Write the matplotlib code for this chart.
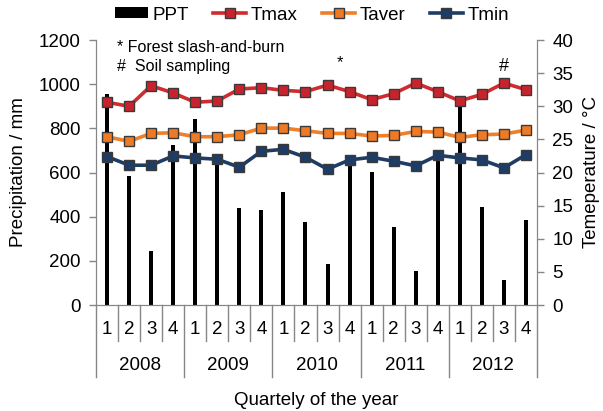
import numpy as np
import matplotlib
matplotlib.use("Agg")
import matplotlib.pyplot as plt

plt.rcParams['font.family'] = ['Liberation Sans', 'DejaVu Sans']

years = ['2008', '2009', '2010', '2011', '2012']
quarters = ['1', '2', '3', '4']

# precipitation per quarter (mm)
ppt = [955, 585, 246, 723, 844, 670, 438, 430, 512, 377,
       184, 660, 601, 355, 154, 680, 920, 444, 113, 385]
# temperatures (degC)
tmax = [30.6, 30.0, 33.1, 32.0, 30.6, 30.8, 32.6, 32.8, 32.4, 32.2,
        33.2, 32.2, 31.0, 31.9, 33.5, 32.2, 30.8, 31.8, 33.5, 32.5]
taver = [25.4, 24.7, 25.9, 26.0, 25.4, 25.4, 25.7, 26.7, 26.7, 26.3,
         25.9, 25.9, 25.5, 25.6, 26.2, 26.1, 25.3, 25.7, 25.8, 26.4]
tmin = [22.4, 21.1, 21.1, 22.5, 22.2, 22.0, 20.8, 23.2, 23.5, 22.3,
        20.5, 21.9, 22.3, 21.7, 21.0, 22.6, 22.2, 21.9, 20.7, 22.7]

x = np.arange(len(ppt))
GRAY = '#868686'
FS = 13.5

fig = plt.figure(figsize=(6.03, 4.11), dpi=100)
ax = fig.add_axes([96/603, 1-305/411, 441/603, 265/411])
ax2 = ax.twinx()

ax.bar(x, ppt, width=0.18, color='black', label='PPT', zorder=2)
ax.set_ylim(0, 1200)
ax.set_yticks(np.arange(0, 1201, 200))
ax.set_xlim(-0.5, 19.5)
ax.set_xticks([])

ax2.plot(x, tmax, color='#D02B2F', lw=2.6, marker='s', ms=7.5,
         mfc='#C8232C', mec='#3a3a3a', mew=1, label='Tmax')
ax2.plot(x, taver, color='#F07F2A', lw=2.6, marker='s', ms=7.5,
         mfc='#EE7A26', mec='#3a3a3a', mew=1, label='Taver')
ax2.plot(x, tmin, color='#1E3D66', lw=2.6, marker='s', ms=7.5,
         mfc='#1D3C66', mec='#3a3a3a', mew=1, label='Tmin')
ax2.set_ylim(0, 40)
ax2.set_yticks(np.arange(0, 41, 5))

for a in (ax, ax2):
    for s in a.spines.values():
        s.set_color(GRAY)
    a.spines['top'].set_visible(False)
    a.tick_params(axis='y', colors=GRAY, labelcolor='black', labelsize=FS,
                  length=5, width=1, pad=6)

fig.text(19/603, 1-172/411, 'Precipitation / mm', rotation=90,
         ha='center', va='center', fontsize=FS)
fig.text(591/603, 1-172/411, 'Temeperature / °C', rotation=90,
         ha='center', va='center', fontsize=FS)

# grouped x-axis labels
tr = ax.get_xaxis_transform()
h = 265.0
for i in range(len(x) + 1):
    yb = -72/h if i % 4 == 0 else -36/h
    ax.plot([i - 0.5, i - 0.5], [0, yb], color=GRAY, lw=1, transform=tr,
            clip_on=False)
for i in range(len(x)):
    ax.text(i, -25/h, quarters[i % 4], transform=tr, ha='center',
            va='center', fontsize=FS)
for j, yr in enumerate(years):
    ax.text(j*4 + 1.5, -60/h, yr, transform=tr, ha='center', va='center',
            fontsize=FS)
fig.text(316/603, 1-400/411, 'Quartely of the year', ha='center',
         va='center', fontsize=FS)

# annotations
ax.text(117/603, 1-47/411, '* Forest slash-and-burn', transform=fig.transFigure,
        fontsize=11.5, va='center')
ax.text(117/603, 1-67/411, '#  Soil sampling', transform=fig.transFigure,
        fontsize=11.5, va='center')
ax2.text(10.55, 36.6, '*', ha='center', va='center', fontsize=12)
ax2.text(18, 36.0, '#', ha='center', va='center', fontsize=13)

h1, l1 = ax.get_legend_handles_labels()
h2, l2 = ax2.get_legend_handles_labels()
fig.legend(h1 + h2, l1 + l2, loc='center', bbox_to_anchor=(312/603, 1-15/411),
           ncol=4, frameon=False, fontsize=FS, handlelength=1.75,
           handletextpad=0.25, columnspacing=1.3, borderpad=0,
           handleheight=0.5)

fig.savefig('out.png', dpi=100)
